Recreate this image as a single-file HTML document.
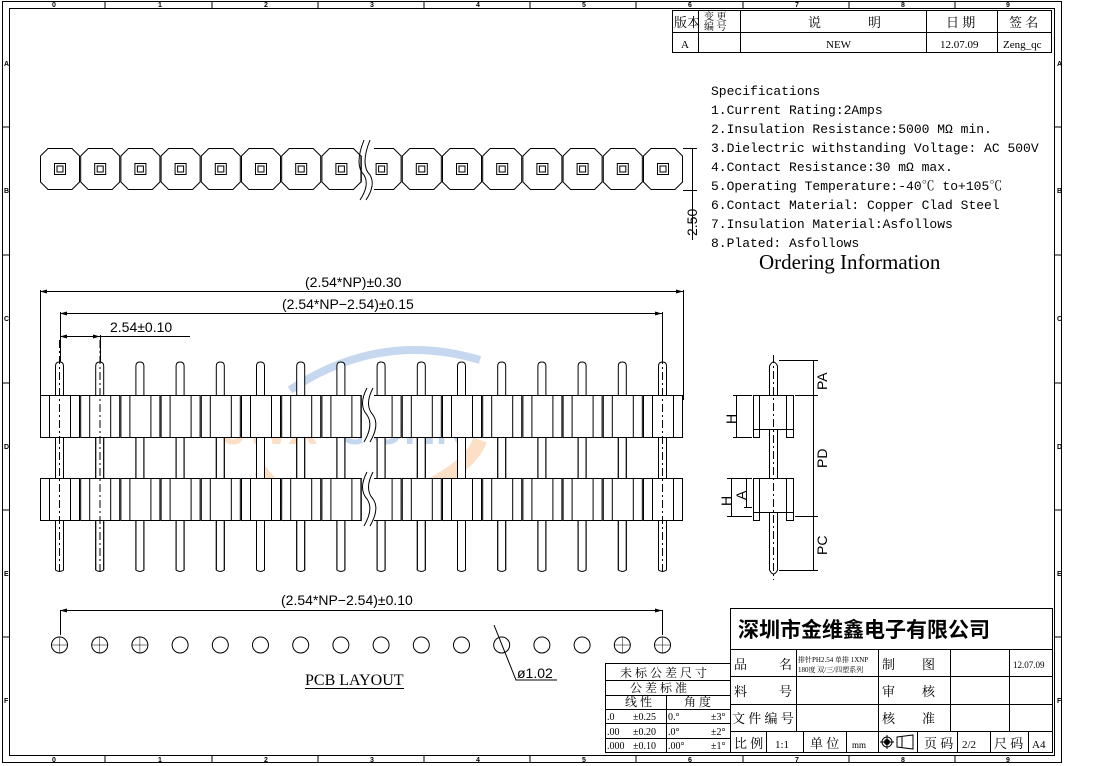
<!DOCTYPE html>
<html><head><meta charset="utf-8"><style>
html,body{margin:0;padding:0;background:#fff}
svg{display:block}
text{font-family:"Liberation Serif","Noto Serif CJK SC",serif;fill:#000}
text.s,.s text{font-family:"Liberation Sans","Noto Sans CJK SC",sans-serif}
text.m,.m text{font-family:"Liberation Mono","Noto Serif CJK SC",monospace}
text.r{font-family:"Liberation Serif",serif}
</style></head><body>
<svg width="1100" height="766" viewBox="0 0 1100 766" xmlns="http://www.w3.org/2000/svg" fill="none" stroke="#000" stroke-width="1">
<!-- frame -->
<rect x="2.5" y="1.5" width="1059" height="761"/>
<rect x="9.5" y="8.5" width="1045" height="747"/>
<g stroke-width="1">
<line x1="105" y1="1" x2="105" y2="8"/><line x1="212" y1="1" x2="212" y2="8"/><line x1="318" y1="1" x2="318" y2="8"/><line x1="424" y1="1" x2="424" y2="8"/><line x1="530" y1="1" x2="530" y2="8"/><line x1="636" y1="1" x2="636" y2="8"/><line x1="743" y1="1" x2="743" y2="8"/><line x1="849" y1="1" x2="849" y2="8"/><line x1="955" y1="1" x2="955" y2="8"/>
<line x1="105" y1="756" x2="105" y2="763"/><line x1="212" y1="756" x2="212" y2="763"/><line x1="318" y1="756" x2="318" y2="763"/><line x1="424" y1="756" x2="424" y2="763"/><line x1="530" y1="756" x2="530" y2="763"/><line x1="636" y1="756" x2="636" y2="763"/><line x1="743" y1="756" x2="743" y2="763"/><line x1="849" y1="756" x2="849" y2="763"/><line x1="955" y1="756" x2="955" y2="763"/>
<line x1="2" y1="127" x2="9" y2="127"/><line x1="2" y1="255" x2="9" y2="255"/><line x1="2" y1="383" x2="9" y2="383"/><line x1="2" y1="510" x2="9" y2="510"/><line x1="2" y1="637" x2="9" y2="637"/>
<line x1="1055" y1="127" x2="1062" y2="127"/><line x1="1055" y1="255" x2="1062" y2="255"/><line x1="1055" y1="383" x2="1062" y2="383"/><line x1="1055" y1="510" x2="1062" y2="510"/><line x1="1055" y1="637" x2="1062" y2="637"/>
</g>
<g class="s" font-size="7" stroke="none" fill="#000" font-weight="bold">
<text x="52" y="7">0</text><text x="158" y="7">1</text><text x="264" y="7">2</text><text x="370" y="7">3</text><text x="476" y="7">4</text><text x="582" y="7">5</text><text x="688" y="7">6</text><text x="795" y="7">7</text><text x="901" y="7">8</text><text x="1006" y="7">9</text>
<text x="52" y="762">0</text><text x="158" y="762">1</text><text x="264" y="762">2</text><text x="370" y="762">3</text><text x="476" y="762">4</text><text x="582" y="762">5</text><text x="688" y="762">6</text><text x="795" y="762">7</text><text x="901" y="762">8</text><text x="1006" y="762">9</text>
<text x="4" y="66">A</text><text x="4" y="193">B</text><text x="4" y="321">C</text><text x="4" y="449">D</text><text x="4" y="576">E</text><text x="4" y="703">F</text>
<text x="1057" y="66">A</text><text x="1057" y="193">B</text><text x="1057" y="321">C</text><text x="1057" y="449">D</text><text x="1057" y="576">E</text><text x="1057" y="703">F</text>
</g>

<!-- watermark -->
<g stroke="none" opacity="0.35">
<text x="222" y="444" class="s" font-size="44" font-weight="bold" style="fill:#f7a45a">JWX</text>
<text x="338" y="444" class="s" font-size="44" font-weight="bold" style="fill:#5b8fd0">CONN</text>
<path d="M260 470 Q300 530 400 500 Q470 470 480 440" stroke="#f7a45a" stroke-width="14" fill="none"/>
<path d="M290 390 Q380 330 480 360" stroke="#5b8fd0" stroke-width="8" fill="none"/>
</g>

<!-- revision table -->
<g>
<rect x="672.5" y="10.5" width="379" height="42"/>
<line x1="672" y1="32.5" x2="1051" y2="32.5"/>
<line x1="698.5" y1="10" x2="698.5" y2="52"/><line x1="740.5" y1="10" x2="740.5" y2="52"/><line x1="926.5" y1="10" x2="926.5" y2="52"/><line x1="997.5" y1="10" x2="997.5" y2="52"/>
</g>
<g stroke="none" font-size="13">
<text x="674" y="27">版本</text>
<text x="704" y="20" font-size="10">变 更</text><text x="704" y="30" font-size="10">编 号</text>
<text x="808" y="27">说</text><text x="868" y="27">明</text>
<text x="946" y="27">日 期</text><text x="1009" y="27">签 名</text>
<text x="681" y="48" font-size="11">A</text>
<text x="826" y="48" font-size="11">NEW</text>
<text x="940" y="48" font-size="11">12.07.09</text>
<text x="1003" y="48" font-size="11">Zeng_qc</text>
</g>

<!-- specs -->
<g class="m" stroke="none" font-size="13">
<text x="711" y="95">Specifications</text>
<text x="711" y="114">1.Current Rating:2Amps</text>
<text x="711" y="133">2.Insulation Resistance:5000 MΩ min.</text>
<text x="711" y="152">3.Dielectric withstanding Voltage: AC 500V</text>
<text x="711" y="171">4.Contact Resistance:30 mΩ max.</text>
<text x="711" y="190">5.Operating Temperature:-40℃ to+105℃</text>
<text x="711" y="209">6.Contact Material: Copper Clad Steel</text>
<text x="711" y="228">7.Insulation Material:Asfollows</text>
<text x="711" y="247">8.Plated: Asfollows</text>
</g>
<text x="759" y="269" font-size="21" stroke="none" class="r">Ordering Information</text>

<!-- top view octagons -->
<g id="tv">
<path d="M40.5 156 L48 148.5 L72 148.5 L79.5 156 L79.5 182 L72 189.5 L48 189.5 L40.5 182 Z"/>
<rect x="54.5" y="163.5" width="11" height="11"/><rect x="57" y="166" width="6" height="6"/>
</g>
<use href="#tv" x="40.2"/><use href="#tv" x="80.4"/><use href="#tv" x="120.6"/><use href="#tv" x="160.8"/><use href="#tv" x="201"/><use href="#tv" x="241.2"/><use href="#tv" x="281.4"/><use href="#tv" x="321.6"/><use href="#tv" x="361.8"/><use href="#tv" x="402"/><use href="#tv" x="442.2"/><use href="#tv" x="482.4"/><use href="#tv" x="522.6"/><use href="#tv" x="562.8"/><use href="#tv" x="603"/>
<rect x="362" y="140" width="12" height="60" fill="#fff" stroke="none"/>
<path d="M364 140 Q354 165 364 175 Q370 185 360 200 M370 140 Q360 165 370 175 Q376 185 366 200"/>
<!-- 2.50 -->
<line x1="683" y1="190.5" x2="697" y2="190.5"/><line x1="683" y1="148.5" x2="697" y2="148.5"/>
<line x1="692.5" y1="148" x2="692.5" y2="240"/>
<text x="0" y="0" stroke="none" class="s" font-size="14" transform="translate(697 236) rotate(-90)">2.50</text>

<!-- dimensions front view -->
<g stroke-width="1">
<line x1="40.5" y1="290" x2="40.5" y2="400"/><line x1="683.5" y1="290" x2="683.5" y2="400"/>
<line x1="40" y1="291.5" x2="683" y2="291.5"/>
<line x1="60.5" y1="312" x2="60.5" y2="362"/><line x1="662.5" y1="312" x2="662.5" y2="362"/>
<line x1="60" y1="313.5" x2="662" y2="313.5"/>
<line x1="100.5" y1="335" x2="100.5" y2="362"/>
<line x1="60" y1="336.5" x2="190" y2="336.5"/>
</g>
<g stroke="none" fill="#000">
<path d="M40 291.5 l7 -2 v4 z"/><path d="M683 291.5 l-7 -2 v4 z"/>
<path d="M60 313.5 l7 -2 v4 z"/><path d="M662 313.5 l-7 -2 v4 z"/>
<path d="M60 336.5 l7 -2 v4 z"/><path d="M100 336.5 l-7 -2 v4 z"/>
</g>
<g class="s" stroke="none" font-size="14">
<text x="305" y="287">(2.54*NP)±0.30</text>
<text x="282" y="309">(2.54*NP−2.54)±0.15</text>
<text x="110" y="332">2.54±0.10</text>
<text x="281" y="605">(2.54*NP−2.54)±0.10</text>
</g>

<!-- front view pin unit -->
<g id="pu">
<path d="M55.5 570 L55.5 366 Q55.5 362 59.5 362 Q63.5 362 63.5 366 L63.5 570 Q59.5 573 55.5 570 Z" fill="#fff"/>
<rect x="40.5" y="395.5" width="39" height="42" fill="#fff"/>
<line x1="49.5" y1="395" x2="49.5" y2="437"/><line x1="70.5" y1="395" x2="70.5" y2="437"/>
<rect x="40.5" y="478.5" width="39" height="42" fill="#fff"/>
<line x1="49.5" y1="478" x2="49.5" y2="520"/><line x1="70.5" y1="478" x2="70.5" y2="520"/>
<line x1="55.5" y1="437" x2="55.5" y2="478"/><line x1="63.5" y1="437" x2="63.5" y2="478"/>
<line x1="55.5" y1="520" x2="55.5" y2="570"/><line x1="63.5" y1="520" x2="63.5" y2="570"/>
</g>
<use href="#pu" x="40.2"/><use href="#pu" x="80.4"/><use href="#pu" x="120.6"/><use href="#pu" x="160.8"/><use href="#pu" x="201"/><use href="#pu" x="241.2"/><use href="#pu" x="281.4"/><use href="#pu" x="321.6"/><use href="#pu" x="361.8"/><use href="#pu" x="402"/><use href="#pu" x="442.2"/><use href="#pu" x="482.4"/><use href="#pu" x="522.6"/><use href="#pu" x="562.8"/><use href="#pu" x="603"/>
<g stroke-dasharray="8 3 2 3">
<line x1="59.5" y1="340" x2="59.5" y2="575"/><line x1="100" y1="340" x2="100" y2="575"/><line x1="662.5" y1="340" x2="662.5" y2="575"/>
</g>
<rect x="362" y="388" width="12" height="54" fill="#fff" stroke="none"/>
<rect x="362" y="472" width="12" height="54" fill="#fff" stroke="none"/>
<path d="M367 388 Q358 405 367 415 Q374 425 364 442 M373 388 Q364 405 373 415 Q380 425 370 442"/>
<path d="M367 472 Q358 489 367 499 Q374 509 364 526 M373 472 Q364 489 373 499 Q380 509 370 526"/>

<!-- side view -->
<path d="M769.5 570 L769.5 366 Q773.5 358 777.5 366 L777.5 570 Q773.5 578 769.5 570 Z" fill="#fff"/>
<rect x="753.5" y="395.5" width="40" height="34" fill="#fff"/>
<rect x="753.5" y="478.5" width="40" height="34" fill="#fff"/>
<path d="M753.5 395.5 V437.5 H759.5 V429.5 M793.5 395.5 V437.5 H786.5 V429.5 M759.5 395.5 V429.5 M786.5 395.5 V429.5"/>
<path d="M753.5 478.5 V520.5 H759.5 V512.5 M793.5 478.5 V520.5 H786.5 V512.5 M759.5 478.5 V512.5 M786.5 478.5 V512.5"/>
<line x1="773.5" y1="355" x2="773.5" y2="580" stroke-dasharray="8 3 2 3"/>
<line x1="779" y1="360.5" x2="818" y2="360.5"/><line x1="795" y1="395.5" x2="818" y2="395.5"/><line x1="795" y1="516.5" x2="818" y2="516.5"/><line x1="779" y1="570.5" x2="818" y2="570.5"/>
<line x1="813.5" y1="360" x2="813.5" y2="570"/>
<line x1="733" y1="395.5" x2="752" y2="395.5"/><line x1="733" y1="437.5" x2="752" y2="437.5"/><line x1="736.5" y1="395" x2="736.5" y2="438"/>
<line x1="727" y1="478.5" x2="752" y2="478.5"/><line x1="727" y1="516.5" x2="752" y2="516.5"/><line x1="731.5" y1="478" x2="731.5" y2="517"/>
<line x1="744" y1="507.5" x2="752" y2="507.5"/><line x1="746.5" y1="478" x2="746.5" y2="508"/>
<g class="s" stroke="none" font-size="14">
<text transform="translate(827 390) rotate(-90)">PA</text>
<text transform="translate(827 468) rotate(-90)">PD</text>
<text transform="translate(827 555) rotate(-90)">PC</text>
<text transform="translate(736 424) rotate(-90)">H</text>
<text transform="translate(731 506) rotate(-90)">H</text>
<text transform="translate(746 500) rotate(-90)">A</text>
</g>

<!-- PCB layout -->
<line x1="60.5" y1="610" x2="60.5" y2="635"/><line x1="662.5" y1="610" x2="662.5" y2="635"/>
<line x1="60" y1="610.5" x2="662" y2="610.5"/>
<path d="M60 610.5 l7 -2 v4 z M662 610.5 l-7 -2 v4 z" fill="#000" stroke="none"/>
<g id="ho"><circle cx="59.5" cy="645" r="8"/></g>
<use href="#ho" x="40.2"/><use href="#ho" x="80.4"/><use href="#ho" x="120.6"/><use href="#ho" x="160.8"/><use href="#ho" x="201"/><use href="#ho" x="241.2"/><use href="#ho" x="281.4"/><use href="#ho" x="321.6"/><use href="#ho" x="361.8"/><use href="#ho" x="402"/><use href="#ho" x="442.2"/><use href="#ho" x="482.4"/><use href="#ho" x="522.6"/><use href="#ho" x="562.8"/><use href="#ho" x="603"/>
<g stroke-width="0.5"><path d="M51.5 645h16M59.5 637v16M91.7 645h16M99.7 637v16M131.9 645h16M139.9 637v16M614.5 645h16M622.5 637v16M654.5 645h16M662.5 637v16"/></g>
<path d="M494 625 L516 680 L557 680"/>
<text x="517" y="678" class="s" font-size="14" stroke="none">ø1.02</text>
<text x="305" y="685" font-size="16" stroke="none">PCB LAYOUT</text>
<line x1="305" y1="688.5" x2="404" y2="688.5"/>

<!-- tolerance table -->
<rect x="605.5" y="663.5" width="125" height="89"/>
<line x1="605" y1="680.5" x2="730" y2="680.5"/><line x1="605" y1="695.5" x2="730" y2="695.5"/><line x1="605" y1="709.5" x2="730" y2="709.5"/><line x1="605" y1="723.5" x2="730" y2="723.5"/><line x1="605" y1="738.5" x2="730" y2="738.5"/>
<line x1="666.5" y1="695" x2="666.5" y2="752"/>
<g stroke="none" font-size="12">
<text x="620" y="677">未 标 公 差 尺 寸</text>
<text x="630" y="692">公 差 标 准</text>
<text x="625" y="706">线 性</text><text x="684" y="706">角 度</text>
<g font-size="10">
<text x="607" y="720">.0</text><text x="633" y="720">±0.25</text><text x="668" y="720">0.°</text><text x="711" y="720">±3°</text>
<text x="607" y="735">.00</text><text x="633" y="735">±0.20</text><text x="668" y="735">.0°</text><text x="711" y="735">±2°</text>
<text x="607" y="749">.000</text><text x="633" y="749">±0.10</text><text x="668" y="749">.00°</text><text x="711" y="749">±1°</text>
</g>
</g>

<!-- title block -->
<rect x="730.5" y="608.5" width="322" height="144"/>
<line x1="730" y1="649.5" x2="1052" y2="649.5"/><line x1="730" y1="676.5" x2="1052" y2="676.5"/><line x1="730" y1="704.5" x2="1052" y2="704.5"/><line x1="730" y1="731.5" x2="1052" y2="731.5"/>
<line x1="796.5" y1="649" x2="796.5" y2="731"/><line x1="878.5" y1="649" x2="878.5" y2="752"/><line x1="950.5" y1="649" x2="950.5" y2="731"/><line x1="1009.5" y1="649" x2="1009.5" y2="731"/>
<line x1="766.5" y1="731" x2="766.5" y2="752"/><line x1="803.5" y1="731" x2="803.5" y2="752"/><line x1="846.5" y1="731" x2="846.5" y2="752"/><line x1="917.5" y1="731" x2="917.5" y2="752"/><line x1="957.5" y1="731" x2="957.5" y2="752"/><line x1="990.5" y1="731" x2="990.5" y2="752"/><line x1="1028.5" y1="731" x2="1028.5" y2="752"/>
<g stroke="none">
<text x="738" y="637" class="s" font-size="21" font-weight="bold">深圳市金维鑫电子有限公司</text>
<g font-size="13">
<text x="734" y="669">品</text><text x="779" y="669">名</text>
<text x="734" y="696">料</text><text x="779" y="696">号</text>
<text x="732" y="723">文 件 编 号</text>
<text x="882" y="669">制</text><text x="922" y="669">图</text>
<text x="882" y="696">审</text><text x="922" y="696">核</text>
<text x="882" y="723">核</text><text x="922" y="723">准</text>
<text x="734" y="748">比 例</text><text x="775" y="748" font-size="11">1:1</text>
<text x="810" y="748">单 位</text><text x="852" y="748" font-size="9">mm</text>
<text x="924" y="748">页 码</text><text x="962" y="748" font-size="11">2/2</text>
<text x="994" y="748">尺 码</text><text x="1032" y="748" font-size="11">A4</text>
</g>
<text x="798" y="662" font-size="7">排针PH2.54 单排 1XNP</text>
<text x="798" y="672" font-size="7">180度 双/三/四塑系列</text>
<text x="1013" y="668" font-size="9">12.07.09</text>
</g>
<circle cx="887" cy="742" r="5"/><circle cx="887" cy="742" r="2.5" fill="#000"/><path d="M880 742h14M887 735v14"/>
<path d="M897 737 L913 735 V749 L897 747 Z M902 737v10"/>
</svg>
</body></html>
